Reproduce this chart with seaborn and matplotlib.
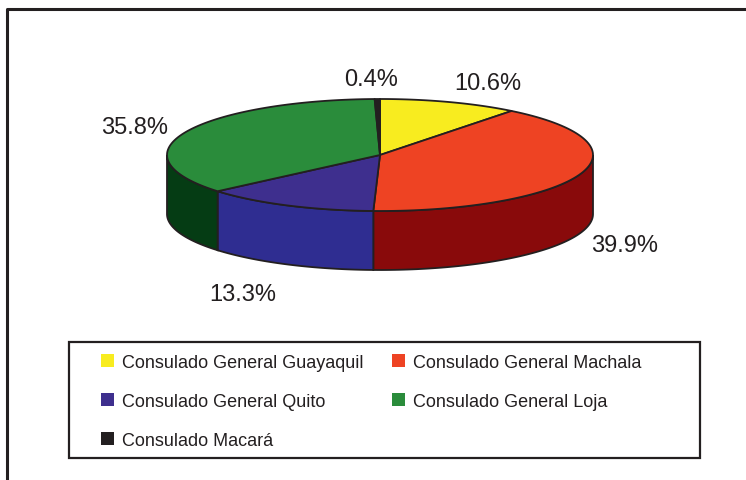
import numpy as np
import matplotlib
matplotlib.use('Agg')
import matplotlib.pyplot as plt
import seaborn as sns
from matplotlib.patches import Polygon, Rectangle, Patch

sns.set_theme(style='white')
plt.rcParams['font.family'] = ['Liberation Sans Narrow', 'Liberation Sans', 'DejaVu Sans']

# data
consulados = ['Consulado General Guayaquil', 'Consulado General Machala',
              'Consulado General Quito', 'Consulado General Loja', 'Consulado Macará']
porcentajes = [10.6, 39.9, 13.3, 35.8, 0.4]
top_colors = ['#f8ec1f', '#ee4323', '#3e2f8e', '#2a8c3b', '#231f20']
side_colors = ['#9a9000', '#890a0b', '#2f2d91', '#053c14', '#111111']

# layout (pixels)
cx, cy = 380, 156
rx, ry = 213, 56
depth = 59
edge = '#231f20'

fig = plt.figure(figsize=(7.46, 4.81), dpi=100)
ax = fig.add_axes([0, 0, 1, 1])
ax.set_xlim(0, 746)
ax.set_ylim(481, 0)
ax.axis('off')

# outer frame
ax.plot([7, 7, 760], [490, 10, 10], color=edge, lw=2.2, solid_capstyle='projecting')

def arc(a0, a1, n=80):
    t = np.radians(np.linspace(a0, a1, n))
    return np.column_stack([cx + rx * np.cos(t), cy - ry * np.sin(t)])

vals = np.array(porcentajes)
ends = 90 - np.cumsum(vals) * 3.6
starts = np.concatenate([[90], ends[:-1]])

# side walls (front half only: angles -180..0)
for s, e, c in zip(starts, ends, side_colors):
    hi, lo = min(s, 0), max(e, -180)
    if hi <= lo:
        continue
    top = arc(hi, lo)
    bot = top[::-1] + [0, depth]
    ax.add_patch(Polygon(np.vstack([top, bot]), closed=True, fc=c, ec=edge, lw=1.3, zorder=2))

# top wedges
for s, e, c in zip(starts, ends, top_colors):
    pts = np.vstack([[cx, cy], arc(s, e)])
    ax.add_patch(Polygon(pts, closed=True, fc=c, ec=edge, lw=1.3, joinstyle='round', zorder=3))

# percentage labels
kx, ky = 1.25, 1.4
nudge = [(21, 2), (-6, 4), (-22, 9), (-2, 4), (-6, 2)]
for s, e, v, (dx, dy) in zip(starts, ends, porcentajes, nudge):
    m = np.radians((s + e) / 2)
    x = cx + rx * kx * np.cos(m) + dx
    y = cy - ry * ky * np.sin(m) + dy
    if np.sin(m) < 0:
        y += depth
    ax.text(x, y, f'{v:.1f}%', fontsize=17, ha='center', va='center', color=edge, zorder=4)

# legend
ax.add_patch(Rectangle((69, 343), 631, 116, fill=False, ec=edge, lw=1.6, zorder=1))
order = [0, 2, 4, 1, 3]
handles = [Patch(facecolor=top_colors[i], edgecolor='none', label=consulados[i]) for i in order]
ax.legend(handles=handles, ncol=2, frameon=False, loc='upper left',
          bbox_to_anchor=(88 / 746, 1 - 342 / 481), fontsize=13,
          handlelength=0.75, handleheight=0.75, handletextpad=0.45,
          columnspacing=1.55, labelspacing=1.22, borderpad=0.2, labelcolor=edge)

fig.savefig('out.png', dpi=100)
